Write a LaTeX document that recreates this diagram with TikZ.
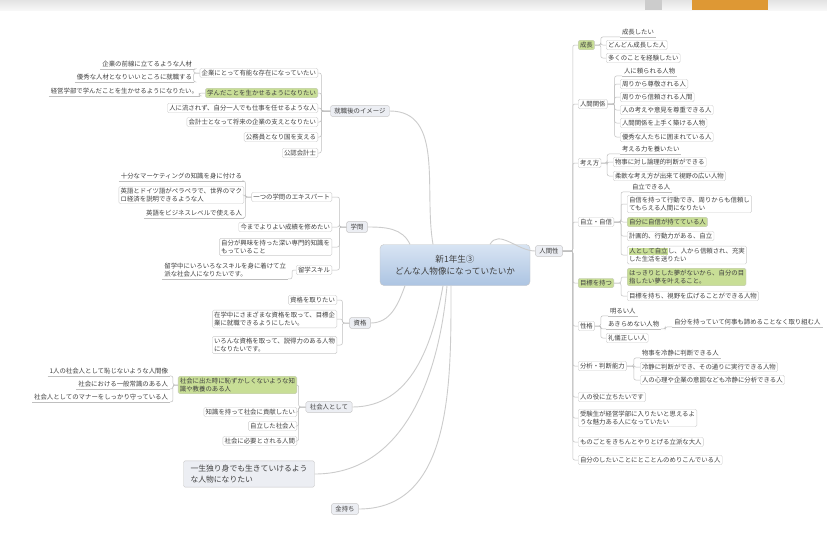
\documentclass[tikz,border=0pt]{standalone}
\usepackage{fontspec}
\newfontfamily\jp{Noto Sans CJK JP}
\usetikzlibrary{calc}
\definecolor{hlgreen}{RGB}{200,222,150}
\definecolor{topicbg}{RGB}{236,238,243}
\definecolor{tabor}{RGB}{222,152,52}
\setlength{\fboxsep}{0.4pt}
\tikzset{
  every node/.style={font=\jp\fontsize{6.4}{8}\selectfont, text=black!75},
  link/.style={draw=gray!50, line width=0.5pt, rounded corners=2pt},
  branch/.style={draw=gray!40, line width=0.9pt},
  leaf/.style={draw=gray!40, fill=white, rounded corners=1.5pt, inner sep=1.8pt, align=left},
  hilite/.style={leaf, fill=hlgreen},
  under/.style={inner sep=1.8pt, align=left,
    append after command={(\tikzlastnode.south west) edge[link] (\tikzlastnode.south east)}},
  topic/.style={draw=gray!45, fill=topicbg, rounded corners=1.5pt, inner xsep=4pt, inner ysep=2.4pt},
}
\begin{document}
\begin{tikzpicture}[x=1pt, y=-1pt]
  \useasboundingbox (0,0) rectangle (827,544);
  \fill[white] (0,0) rectangle (827,544);
  % tab strip at the top
  \fill[top color=gray!22, bottom color=gray!6] (0,0) rectangle (827,10);
  \fill[gray!40] (645,0) rectangle (662,10);
  \fill[tabor] (692,0) rectangle (768,10);

  \node[draw=gray!45, rounded corners=4pt, top color={rgb,255:red,216;green,228;blue,243},
    bottom color={rgb,255:red,172;green,196;blue,226}, minimum width=150pt, minimum height=41pt,
    align=center, font=\jp\fontsize{8.6}{12}\selectfont] (root) at (455,265)
    {新1年生③\\どんな人物像になっていたいか};

  % left: 就職後のイメージ
  \node[topic] (job) at (360,111) {就職後のイメージ};
  \node[leaf, anchor=east] (j1) at (318,73) {企業にとって有能な存在になっていたい};
  \node[hilite, anchor=east] (j2) at (318,93) {学んだことを生かせるようになりたい};
  \node[leaf, anchor=east] (j3) at (318,108) {人に流されず、自分一人でも仕事を任せるような人};
  \node[leaf, anchor=east] (j4) at (318,122) {会計士となって将来の企業の支えとなりたい};
  \node[leaf, anchor=east] (j5) at (318,137) {公務員となり国を支える};
  \node[leaf, anchor=east] (j6) at (318,153) {公認会計士};
  \node[under, anchor=east] (j11) at (194,64) {企業の前線に立てるような人材};
  \node[under, anchor=east] (j12) at (194,77) {優秀な人材となりいいところに就職する};
  \node[under, anchor=east] (j21) at (200,91) {経営学部で学んだことを生かせるようになりたい。};
  \foreach \i in {1,...,6} \draw[link] (job.west) -- ++(-9,0) |- (j\i.east);
  \draw[link] (j1.west) -- ++(-6,0) |- (j11.south east);
  \draw[link] (j1.west) -- ++(-6,0) |- (j12.south east);
  \draw[link] (j2.west) -- ++(-6,0) |- (j21.south east);

  % left: 学問
  \node[topic] (gak) at (357,227) {学問};
  \node[leaf, anchor=east] (g1) at (332,197) {一つの学問のエキスパート};
  \node[leaf, anchor=east] (g2) at (332,227) {今までよりよい成績を修めたい};
  \node[leaf, anchor=east] (g3) at (332,247) {自分が興味を持った深い専門的知識を\\もっていること};
  \node[leaf, anchor=east] (g4) at (332,270) {留学スキル};
  \node[under, anchor=east] (g11) at (244,176) {十分なマーケティングの知識を身に付ける};
  \node[leaf, anchor=east] (g12) at (244,195) {英語とドイツ語がペラペラで、世界のマク\\ロ経済を説明できるような人};
  \node[under, anchor=east] (g13) at (244,213) {英語をビジネスレベルで使える人};
  \node[under, anchor=east] (g41) at (288,270) {留学中にいろいろなスキルを身に着けて立\\派な社会人になりたいです。};
  \foreach \i in {1,...,4} \draw[link] (gak.west) -- ++(-7,0) |- (g\i.east);
  \draw[link] (g1.west) -- ++(-6,0) |- (g11.south east);
  \draw[link] (g1.west) -- ++(-6,0) |- (g12.east);
  \draw[link] (g1.west) -- ++(-6,0) |- (g13.south east);
  \draw[link] (g4.west) -- ++(-4,0) |- (g41.south east);

  % left: 資格
  \node[topic] (shi) at (360,323) {資格};
  \node[leaf, anchor=east] (s1) at (337,300) {資格を取りたい};
  \node[leaf, anchor=east] (s2) at (337,319) {在学中にさまざまな資格を取って、目標企\\業に就職できるようにしたい。};
  \node[leaf, anchor=east] (s3) at (337,345) {いろんな資格を取って、説得力のある人物\\になりたいです。};
  \foreach \i in {1,...,3} \draw[link] (shi.west) -- ++(-7,0) |- (s\i.east);

  % left: 社会人として
  \node[topic] (soc) at (329,407) {社会人として};
  \node[hilite, anchor=east] (o1) at (297,385) {社会に出た時に恥ずかしくないような知\\識や教養のある人};
  \node[leaf, anchor=east] (o2) at (297,412) {知識を持って社会に貢献したい};
  \node[leaf, anchor=east] (o3) at (297,426) {自立した社会人};
  \node[leaf, anchor=east] (o4) at (297,441) {社会に必要とされる人間};
  \node[under, anchor=east] (o11) at (170,371) {1人の社会人として恥じないような人間像};
  \node[under, anchor=east] (o12) at (170,384) {社会における一般常識のある人};
  \node[under, anchor=east] (o13) at (170,397) {社会人としてのマナーをしっかり守っている人};
  \foreach \i in {1,...,4} \draw[link] (soc.west) -- ++(-7,0) |- (o\i.east);
  \foreach \i in {11,12,13} \draw[link] (o1.west) -- ++(-5,0) |- (o\i.south east);

  % left: single topics
  \node[topic, inner xsep=7pt, inner ysep=4pt, align=left, font=\jp\fontsize{7.8}{11}\selectfont]
    (alone) at (249,474) {一生独り身でも生きていけるよう\\な人物になりたい};
  \node[topic] (rich) at (345,509) {金持ち};

  % right: 人間性
  \node[topic] (hum) at (549,251) {人間性};
  \node[hilite, anchor=west] (h1) at (578,45) {成長};
  \node[leaf, anchor=west] (h2) at (578,104) {人間関係};
  \node[leaf, anchor=west] (h3) at (578,163) {考え方};
  \node[leaf, anchor=west] (h4) at (578,222) {自立・自信};
  \node[hilite, anchor=west] (h5) at (578,283) {目標を持つ};
  \node[leaf, anchor=west] (h6) at (578,326) {性格};
  \node[leaf, anchor=west] (h7) at (578,366) {分析・判断能力};
  \node[leaf, anchor=west] (h8) at (578,397) {人の役に立ちたいです};
  \node[leaf, anchor=west] (h9) at (578,418) {受験生が経営学部に入りたいと思えるよ\\うな魅力ある人になっていたい};
  \node[leaf, anchor=west] (h10) at (578,442) {ものごとをきちんとやりとげる立派な大人};
  \node[leaf, anchor=west] (h11) at (578,460) {自分のしたいことにとことんのめりこんでいる人};
  \foreach \i in {1,...,11} \draw[link] (hum.east) -- ++(10,0) |- (h\i.west);

  \node[under, anchor=west] (h1a) at (620,32) {成長したい};
  \node[leaf, anchor=west] (h1b) at (606,45) {どんどん成長した人};
  \node[leaf, anchor=west] (h1c) at (606,58) {多くのことを経験したい};
  \draw[link] (h1.east) -- ++(6,0) |- (h1a.south west);
  \foreach \c in {h1b,h1c} \draw[link] (h1.east) -- ++(6,0) |- (\c.west);

  \node[under, anchor=west] (h2a) at (622,71) {人に頼られる人物};
  \node[leaf, anchor=west] (h2b) at (620,84) {周りから尊敬される人};
  \node[leaf, anchor=west] (h2c) at (620,97) {周りから信頼される人間};
  \node[leaf, anchor=west] (h2d) at (620,110) {人の考えや意見を尊重できる人};
  \node[leaf, anchor=west] (h2e) at (620,123) {人間関係を上手く築ける人物};
  \node[leaf, anchor=west] (h2f) at (620,137) {優秀な人たちに囲まれている人};
  \draw[link] (h2.east) -- ++(7,0) |- (h2a.south west);
  \foreach \c in {h2b,h2c,h2d,h2e,h2f} \draw[link] (h2.east) -- ++(7,0) |- (\c.west);

  \node[under, anchor=west] (h3a) at (620,149) {考える力を養いたい};
  \node[leaf, anchor=west] (h3b) at (613,162) {物事に対し論理的判断ができる};
  \node[leaf, anchor=west] (h3c) at (613,176) {柔軟な考え方が出来て視野の広い人物};
  \draw[link] (h3.east) -- ++(6,0) |- (h3a.south west);
  \foreach \c in {h3b,h3c} \draw[link] (h3.east) -- ++(6,0) |- (\c.west);

  \node[under, anchor=west] (h4a) at (630,187) {自立できる人};
  \node[leaf, anchor=west] (h4b) at (627,204) {自信を持って行動でき、周りからも信頼し\\てもらえる人間になりたい};
  \node[hilite, anchor=west] (h4c) at (627,222) {自分に自信が持てている人};
  \node[leaf, anchor=west] (h4d) at (627,236) {計画的、行動力がある、自立};
  \node[leaf, anchor=west] (h4e) at (627,255) {\colorbox{hlgreen}{人として自立}し、人から信頼され、充実\\した生活を送りたい};
  \draw[link] (h4.east) -- ++(7,0) |- (h4a.south west);
  \foreach \c in {h4b,h4c,h4d,h4e} \draw[link] (h4.east) -- ++(7,0) |- (\c.west);

  \node[hilite, anchor=west] (h5a) at (627,277) {はっきりとした夢がないから、自分の目\\指したい夢を叶えること。};
  \node[leaf, anchor=west] (h5b) at (627,296) {目標を持ち、視野を広げることができる人物};
  \foreach \c in {h5a,h5b} \draw[link] (h5.east) -- ++(7,0) |- (\c.west);

  \node[under, anchor=west] (h6a) at (608,311) {明るい人};
  \node[under, anchor=west] (h6b) at (606,324) {あきらめない人物};
  \node[leaf, anchor=west] (h6c) at (606,338) {礼儀正しい人};
  \node[under, anchor=west] (h6d) at (672,322) {自分を持っていて何事も諦めることなく取り組む人};
  \foreach \c in {h6a,h6b} \draw[link] (h6.east) -- ++(6,0) |- (\c.south west);
  \draw[link] (h6.east) -- ++(6,0) |- (h6c.west);
  \draw[link] (h6b.south east) -- ++(4,0) |- (h6d.south west);

  \node[under, anchor=west] (h7a) at (640,353) {物事を冷静に判断できる人};
  \node[leaf, anchor=west] (h7b) at (640,367) {冷静に判断ができ、その通りに実行できる人物};
  \node[leaf, anchor=west] (h7c) at (640,380) {人の心理や企業の意図なども冷静に分析できる人};
  \draw[link] (h7.east) -- ++(7,0) |- (h7a.south west);
  \foreach \c in {h7b,h7c} \draw[link] (h7.east) -- ++(7,0) |- (\c.west);

  % branches from the root
  \draw[branch] ([xshift=-22pt]root.north) to[out=100, in=0] (job.east);
  \draw[branch] ([xshift=-45pt]root.north) to[out=115, in=0] (gak.east);
  \draw[branch] ([xshift=35pt]root.north) to[out=60, in=180] (hum.west);
  \draw[branch] ([xshift=-50pt]root.south) to[out=-110, in=0] (shi.east);
  \draw[branch] ([xshift=-12pt]root.south) to[out=-100, in=0] (soc.east);
  \draw[branch] ([xshift=-8pt]root.south) to[out=-95, in=0] (alone.east);
  \draw[branch] ([xshift=-4pt]root.south) to[out=-90, in=0] (rich.east);
\end{tikzpicture}
\end{document}
